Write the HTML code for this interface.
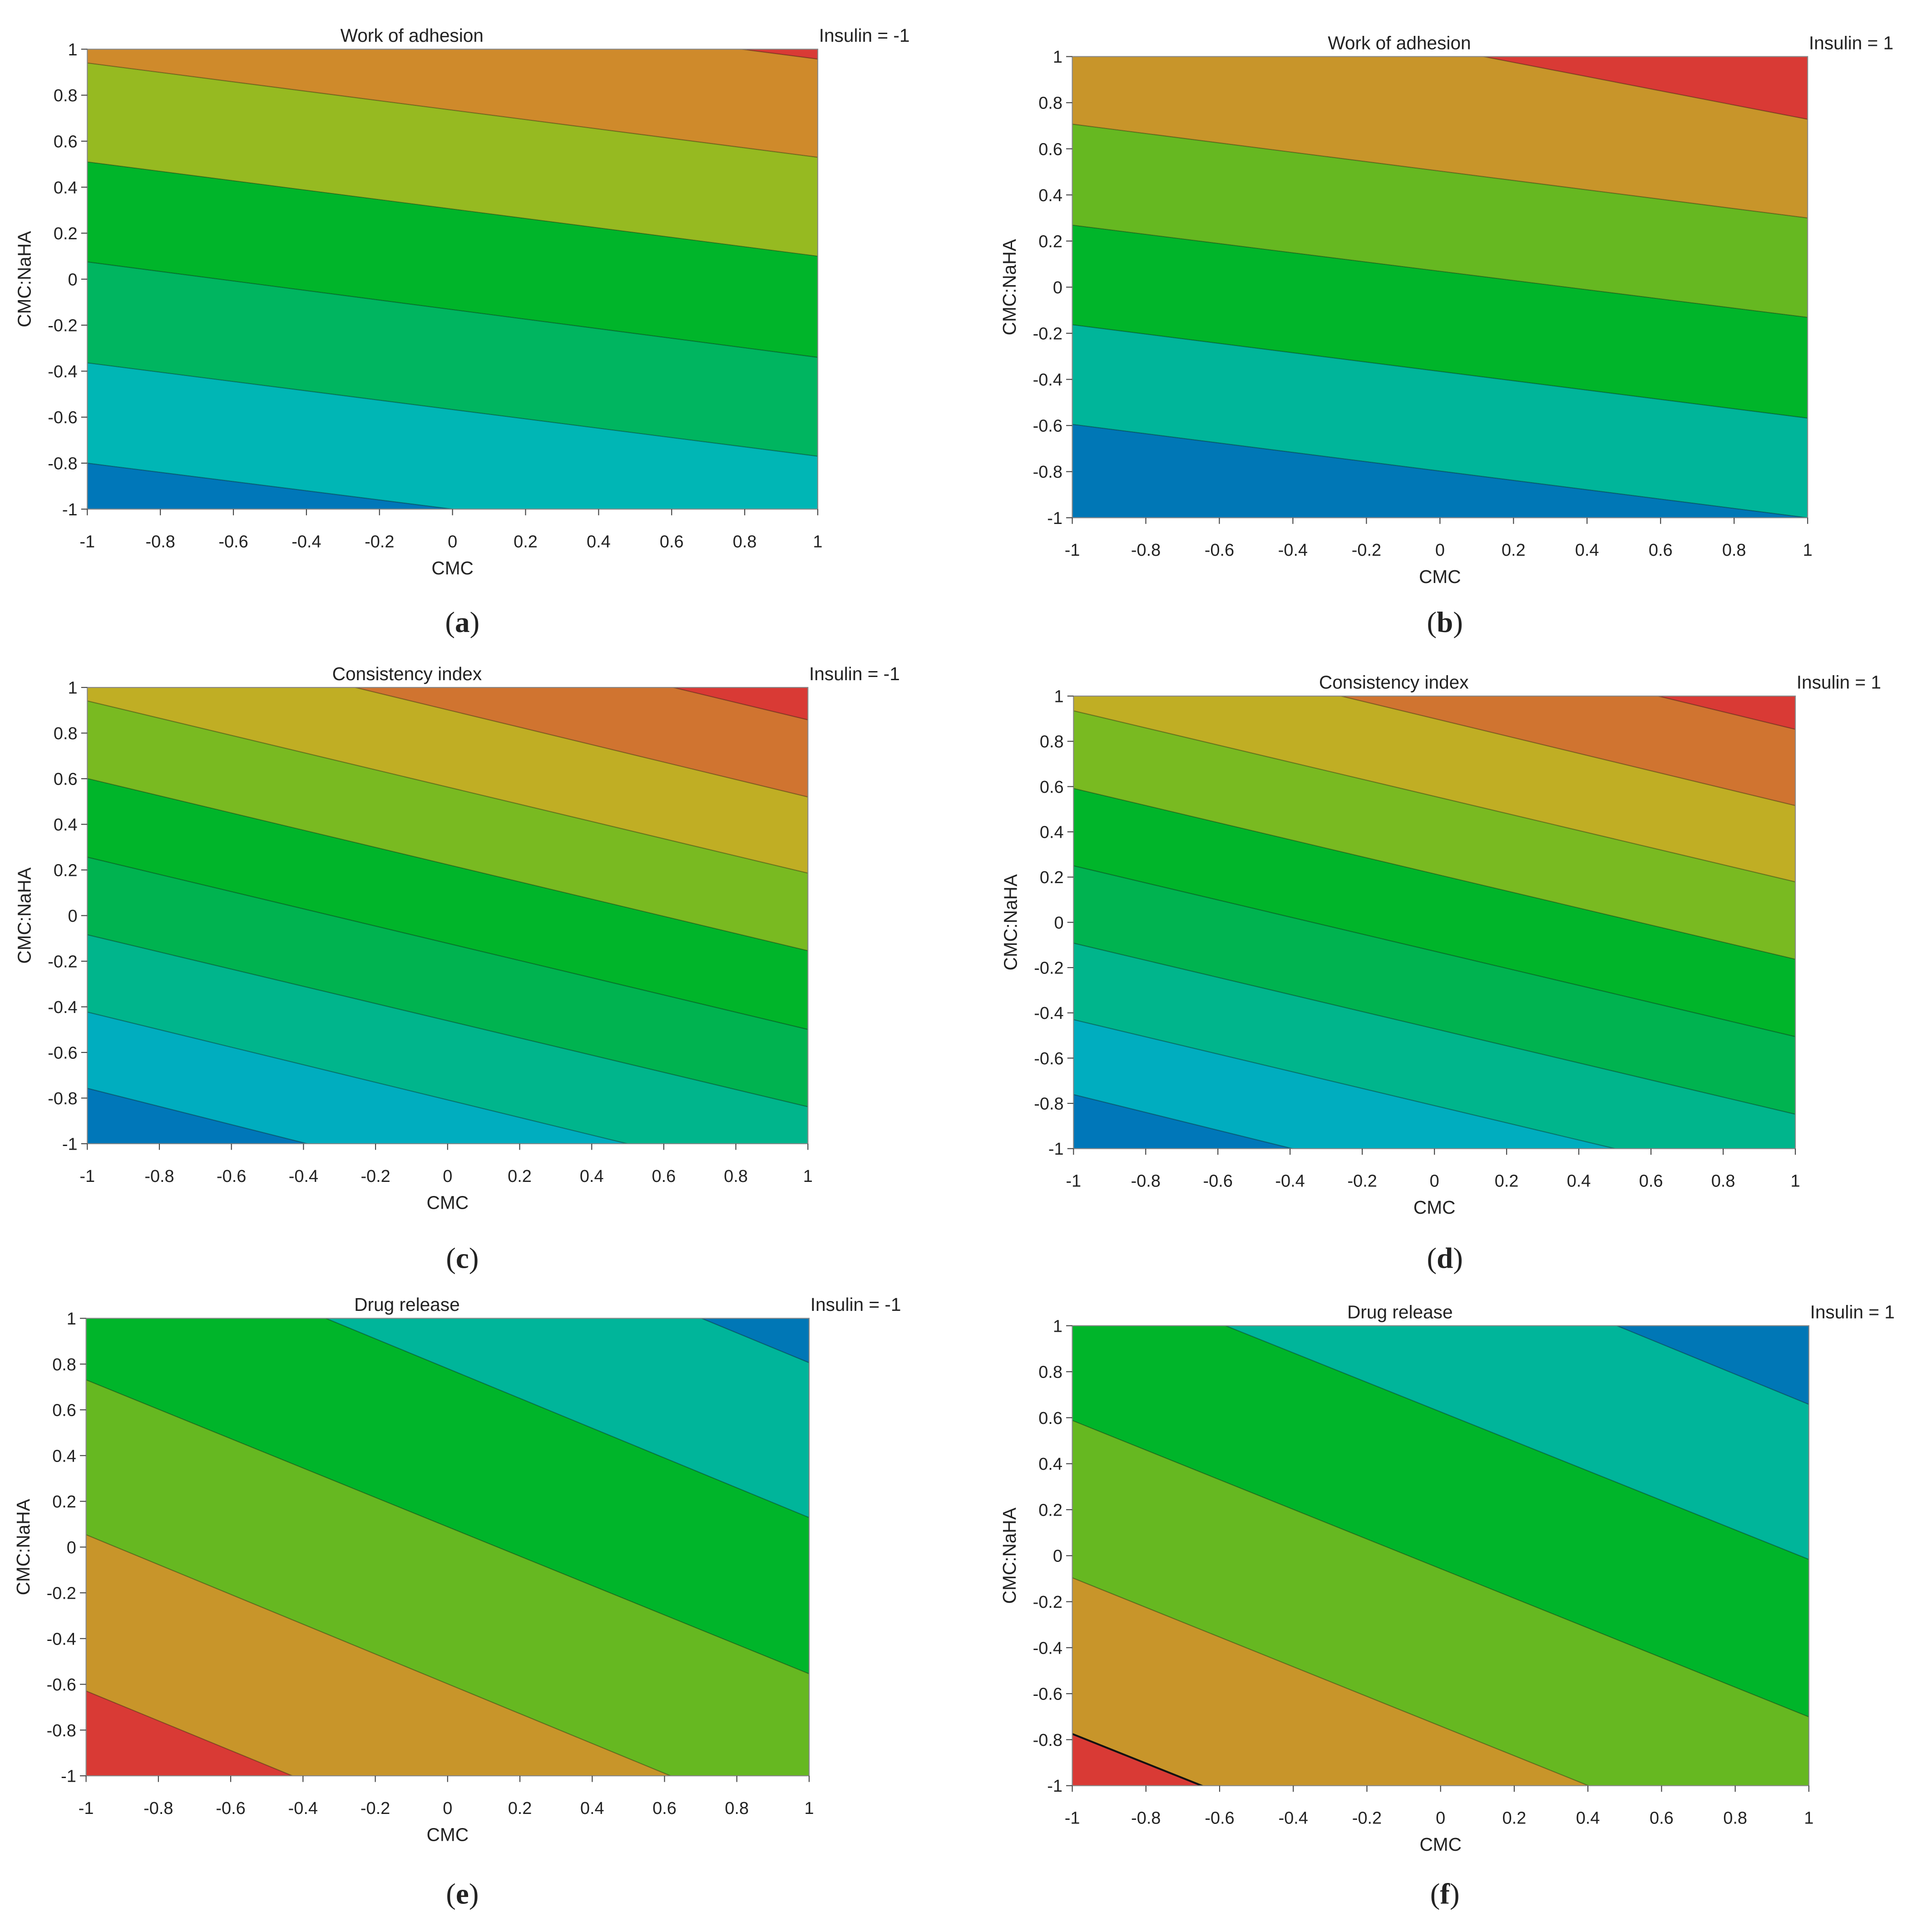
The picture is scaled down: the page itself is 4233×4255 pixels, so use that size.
<!DOCTYPE html>
<html><head><meta charset="utf-8"><style>
html,body{margin:0;padding:0;background:#fff;width:4233px;height:4255px;overflow:hidden;position:relative;}
svg{display:block;position:absolute;left:0;top:0;}
text{font-family:"Liberation Sans","DejaVu Sans",sans-serif;fill:#222;}
</style></head><body>
<svg id="chart" xmlns="http://www.w3.org/2000/svg" width="4233" height="4255" viewBox="0 0 1563 1571" preserveAspectRatio="none" overflow="hidden"></svg>
<script>
// ---- data: contour boundary lines (y at CMC=-1, y at CMC=1), bottom to top ----
const ticks = [-1,-0.8,-0.6,-0.4,-0.2,0,0.2,0.4,0.6,0.8,1];
const tickLabels = ["-1","-0.8","-0.6","-0.4","-0.2","0","0.2","0.4","0.6","0.8","1"];

const aLeft  = [-0.80,-0.364,0.075,0.51,0.94,1.37];
const aRight = [-1.20,-0.77,-0.34,0.10,0.53,0.957];
const aColors = ["#0077b9","#00b6b5","#00b560","#00b52a","#96ba21","#cf8a2b","#d93a35"];

const bLeft  = [-0.595,-0.163,0.269,0.707,1.345];
const bRight = [-1.0,-0.568,-0.131,0.30,0.728];
const bColors = ["#0077b6","#00b59a","#00b52a","#66b821","#c8952a","#d93a35"];

const cLeft  = [-0.757,-0.423,-0.084,0.256,0.601,0.941,1.284,1.618];
const cRight = [-1.553,-1.193,-0.838,-0.499,-0.154,0.186,0.520,0.858];
const cColors = ["#0077b9","#00adbf","#00b58c","#00b350","#00b52a","#79ba21","#c0ae24","#d07430","#d93a35"];

const dLeft  = [-0.761,-0.43,-0.092,0.25,0.592,0.935,1.285,1.627];
const dRight = [-1.549,-1.19,-0.848,-0.505,-0.163,0.179,0.516,0.853];
const dColors = ["#0077b9","#00adbf","#00b58c","#00b350","#00b52a","#79ba21","#c0ae24","#d07430","#d93a35"];

const eLeft  = [-0.629,0.054,0.731,1.432,2.11];
const eRight = [-1.929,-1.25,-0.554,0.129,0.806];
const eColors = ["#d93a35","#c8952a","#66b821","#00b52a","#00b59a","#0077b6"];

const fLeft  = [-0.775,-0.096,0.588,1.267,1.97];
const fRight = [-2.055,-1.386,-0.701,-0.016,0.658];
const fColors = ["#d93a35","#c8952a","#66b821","#00b52a","#00b59a","#0077b6"];

const panels = [
 {id:"a",title:"Work of adhesion",ins:"Insulin = -1",x0:71,x1:665,y0:40,y1:414,L:aLeft,R:aRight,C:aColors,lx:376,ly:506},
 {id:"b",title:"Work of adhesion",ins:"Insulin = 1",x0:872,x1:1470,y0:46,y1:421,L:bLeft,R:bRight,C:bColors,lx:1175,ly:506},
 {id:"c",title:"Consistency index",ins:"Insulin = -1",x0:71,x1:657,y0:559,y1:930,L:cLeft,R:cRight,C:cColors,lx:376,ly:1023},
 {id:"d",title:"Consistency index",ins:"Insulin = 1",x0:873,x1:1460,y0:566,y1:934,L:dLeft,R:dRight,C:dColors,lx:1175,ly:1023},
 {id:"e",title:"Drug release",ins:"Insulin = -1",x0:70,x1:658,y0:1072,y1:1444,L:eLeft,R:eRight,C:eColors,lx:376,ly:1540},
 {id:"f",title:"Drug release",ins:"Insulin = 1",x0:872,x1:1471,y0:1078,y1:1452,L:fLeft,R:fRight,C:fColors,lx:1175,ly:1540}
];

const NS="http://www.w3.org/2000/svg";
const svg=document.getElementById("chart");
function mk(tag,attrs,parent){const e=document.createElementNS(NS,tag);for(const k in attrs)e.setAttribute(k,attrs[k]);(parent||svg).appendChild(e);return e;}
const defs=mk("defs",{});

panels.forEach(p=>{
  const g=mk("g",{});
  
  
  const sx=v=>p.x0+(v+1)/2*(p.x1-p.x0);
  const sy=v=>p.y1-(v+1)/2*(p.y1-p.y0);
  const cp=mk("clipPath",{id:"clip"+p.id},defs);
  mk("rect",{x:p.x0,y:p.y0,width:p.x1-p.x0,height:p.y1-p.y0},cp);
  const pg=mk("g",{"clip-path":"url(#clip"+p.id+")"},g);
  const Ls=[-10].concat(p.L,[10]), Rs=[-10].concat(p.R,[10]);
  for(let i=0;i<p.C.length;i++){
    const poly=mk("polygon",{points:[sx(-1),sy(Ls[i]),sx(1),sy(Rs[i]),sx(1),sy(Rs[i+1]),sx(-1),sy(Ls[i+1])].join(" "),fill:p.C[i]},pg);
    
    
  }
  for(let i=0;i<p.L.length;i++){
    const ln=mk("line",{x1:sx(-1),y1:sy(p.L[i]),x2:sx(1),y2:sy(p.R[i]),stroke:(p.id==="f"&&i===0)?"#111":"rgba(0,0,0,0.35)","stroke-width":(p.id==="f"&&i===0)?1.5:0.8},pg);
    
    
  }
  const fr=mk("rect",{x:p.x0,y:p.y0,width:p.x1-p.x0,height:p.y1-p.y0,fill:"none",stroke:"#888","stroke-width":0.8},g);
  
  
  ticks.forEach((t,i)=>{
    mk("line",{x1:sx(t),y1:p.y1,x2:sx(t),y2:p.y1+5,stroke:"#444","stroke-width":0.8},g);
    const xt=mk("text",{x:sx(t),y:p.y1+31,"font-size":14,"text-anchor":"middle"},g);
    xt.textContent=tickLabels[i];
    
    
    mk("line",{x1:p.x0-5,y1:sy(t),x2:p.x0,y2:sy(t),stroke:"#444","stroke-width":0.8},g);
    const yt=mk("text",{x:p.x0-8,y:sy(t)+5,"font-size":14,"text-anchor":"end"},g);
    yt.textContent=tickLabels[i];
    
    
  });
  const xa=mk("text",{x:(p.x0+p.x1)/2,y:p.y1+53,"font-size":15,"text-anchor":"middle"},g);
  xa.textContent="CMC";
  
  
  const yc=(p.y0+p.y1)/2, yx=p.x0-46;
  const ya=mk("text",{x:yx,y:yc,"font-size":15,"text-anchor":"middle",transform:"rotate(-90 "+yx+" "+yc+")"},g);
  ya.textContent="CMC:NaHA";
  
  
  const ti=mk("text",{x:(p.x0+p.x1)/2-33,y:p.y0-6,"font-size":15,"text-anchor":"middle"},g);
  ti.textContent=p.title;
  
  
  const ins=mk("text",{x:p.x1+1,y:p.y0-6,"font-size":15,"text-anchor":"start"},g);
  ins.textContent=p.ins;
  
  
  const lab=mk("text",{x:p.lx,y:p.ly+8,"font-size":24,"text-anchor":"middle",style:"font-family:'Liberation Serif',serif"},g);
  lab.innerHTML='(<tspan font-weight="bold">'+p.id+'</tspan>)';
  
  
});
</script>
</body></html>
